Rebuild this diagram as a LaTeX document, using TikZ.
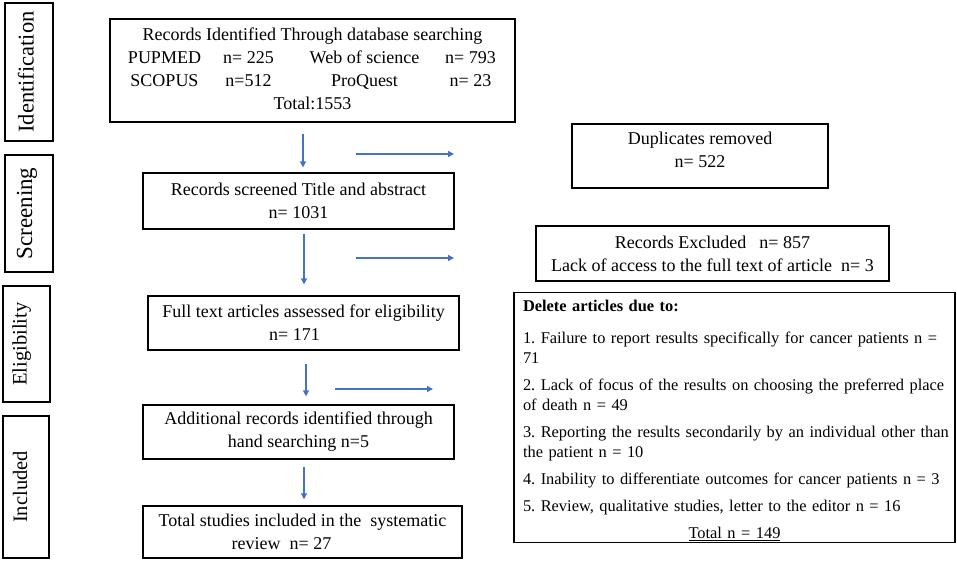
\documentclass[tikz,border=0pt]{standalone}
\usepackage{fontspec}
\setmainfont{Liberation Serif}
\usepackage{array}
\usetikzlibrary{arrows.meta,calc}
\definecolor{arrblue}{RGB}{68,114,196}
\frenchspacing
\begin{document}
\begin{tikzpicture}[x=1pt,y=-1pt,
  box/.style={draw=black, line width=1.2pt, rectangle, inner sep=0pt, align=center, font=\fontsize{18}{23}\selectfont},
  side/.style={draw=black, line width=1.2pt, rectangle, inner sep=0pt, rotate=90, text height=14pt},
  arr/.style={draw=arrblue, line width=1.3pt, -{Triangle[length=6pt,width=6pt]}}
]
\useasboundingbox (0,0) rectangle (957,561);

% stage labels
\node[side, minimum width=138pt, minimum height=48pt, text height=15pt, text depth=6pt, font=\fontsize{22.5}{26}\selectfont] (sid) at (29,72) {Identification};
\node[side, minimum width=117pt, minimum height=48pt, text height=15pt, text depth=9pt, font=\fontsize{23}{26}\selectfont] (sscr) at (29,213.5) {Screening};
\node[side, minimum width=116pt, minimum height=47pt, text depth=14pt, font=\fontsize{20.5}{24}\selectfont] (selig) at (26.5,344) {Eligibility};
\node[side, minimum width=142pt, minimum height=46pt, text depth=12pt, font=\fontsize{20.5}{24}\selectfont] (sincl) at (26,487) {Included};

% main column
\node[box, minimum width=405pt, minimum height=103pt] (rec) at (312.5,70.5) {%
\begin{tabular}{@{}>{\centering\arraybackslash}p{84pt}@{}>{\centering\arraybackslash}p{84pt}@{}>{\centering\arraybackslash}p{148pt}@{}>{\centering\arraybackslash}p{64pt}@{}}
\multicolumn{4}{c}{Records Identified Through database searching}\\
PUPMED & n= 225 & Web of science & n= 793\\
SCOPUS & n=512 & ProQuest & n= 23\\
\multicolumn{4}{c}{Total:1553}
\end{tabular}};
\node[box, minimum width=311pt, minimum height=56pt] (scr) at (298.5,201) {Records screened Title and abstract\\n= 1031};
\node[box, minimum width=311pt, minimum height=54pt] (full) at (303.5,323) {Full text articles assessed for eligibility\\n= 171\hspace*{18pt}};
\node[box, minimum width=311pt, minimum height=54pt] (add) at (298.5,432) {Additional records identified through\\hand searching n=5};
\node[box, minimum width=319pt, minimum height=52pt] (tot) at (302.5,532) {Total studies included in the\ \ systematic\\review\ \ n= 27\hspace*{42pt}};

% side column
\node[box, minimum width=256pt, minimum height=64pt] (dup) at (700,156) {Duplicates removed\\n= 522\\[-11pt]\mbox{}};
\node[box, minimum width=353pt, minimum height=55pt] (exc) at (712.5,253.5) {Records Excluded\hspace{13pt}n= 857\\Lack of access to the full text of article\ \ n= 3};
\node[box, align=left, text width=423pt, inner xsep=9pt, minimum width=441pt, minimum height=250pt, font=\fontsize{16.4}{20}\selectfont] (del) at (734.5,417.5) {%
\mbox{}\\[-3pt]
\textbf{Delete articles due to:}\\[12pt]
\mbox{1. Failure to report results specifically for cancer patients n =}\\
71\\[7pt]
\mbox{2. Lack of focus of the results on choosing the preferred place}\\
of death n = 49\\[7pt]
\mbox{3. Reporting the results secondarily by an individual other than}\\
the patient n = 10\\[7pt]
\mbox{4. Inability to differentiate outcomes for cancer patients n = 3}\\[7pt]
\mbox{5. Review, qualitative studies, letter to the editor n = 16}\\[7pt]
\makebox[423pt]{\underline{Total n = 149}}};

% arrow guides
\coordinate (ax1) at (303,0);
\coordinate (ax2) at (304,0);
\coordinate (ax3) at (306,0);
\coordinate (ax4) at (304,0);
\coordinate (h1s) at (356,154);
\coordinate (h1e) at (454,154);
\coordinate (h2s) at (356,258);
\coordinate (h2e) at (454,258);
\coordinate (h3s) at (335,389);
\coordinate (h3e) at (433,389);

\draw[arr] ($(rec.south -| ax1)+(0,11)$) -- ($(scr.north -| ax1)+(0,-5)$);
\draw[arr] ($(scr.south -| ax2)+(0,4)$) -- ($(full.north -| ax2)+(0,-11)$);
\draw[arr] ($(full.south -| ax3)+(0,13)$) -- ($(add.north -| ax3)+(0,-8)$);
\draw[arr] ($(add.south -| ax4)+(0,7)$) -- ($(tot.north -| ax4)+(0,-6)$);

\draw[arr] (h1s) -- (h1e);
\draw[arr] (h2s) -- (h2e);
\draw[arr] (h3s) -- (h3e);
\end{tikzpicture}
\end{document}
